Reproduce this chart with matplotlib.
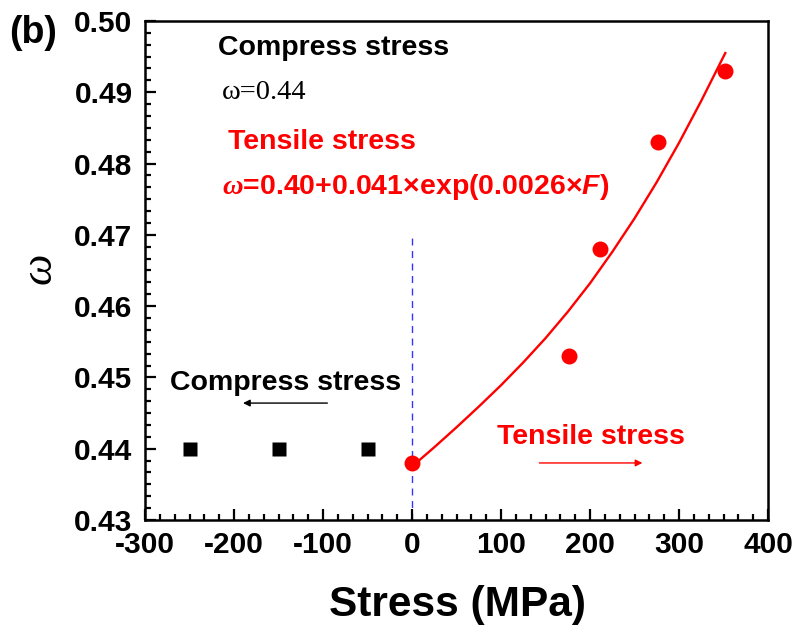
import matplotlib
matplotlib.use("Agg")
import matplotlib.pyplot as plt
from matplotlib.ticker import MultipleLocator, AutoMinorLocator

plt.rcParams['font.family'] = ['Liberation Sans', 'DejaVu Sans']
plt.rcParams['font.weight'] = 'bold'
plt.rcParams['axes.unicode_minus'] = False
plt.rcParams['mathtext.fontset'] = 'custom'
plt.rcParams['mathtext.it'] = 'Liberation Serif:italic'
plt.rcParams['mathtext.sf'] = 'Liberation Sans:italic:bold'
plt.rcParams['mathtext.rm'] = 'Liberation Sans:bold'

# compressive side (constant omega)
compress_x = [-250, -150, -50]
compress_y = [0.44, 0.44, 0.44]

# tensile side measurements
tensile_x = [0, 176, 211, 276, 352]
tensile_y = [0.438, 0.453, 0.468, 0.483, 0.493]

# fitted curve
fit_x = [0, 25, 50, 75, 100, 125, 150, 175, 200, 225, 250, 275, 300, 325, 352]
fit_y = [0.4375, 0.4402, 0.4430, 0.4459, 0.4489, 0.4521, 0.4555, 0.4592,
         0.4632, 0.4676, 0.4723, 0.4774, 0.4829, 0.4888, 0.4955]

fig = plt.figure(figsize=(7.99, 6.28), dpi=100)
ax = fig.add_axes([0.1815, 0.172, 0.7797, 0.7946])

ax.plot(fit_x, fit_y, color='red', lw=1.7, zorder=2)
ax.plot(tensile_x, tensile_y, 'o', color='red', ms=11.5, mec='none', zorder=3)
ax.plot(compress_x, compress_y, 's', color='black', ms=9.5, mec='none', zorder=3)
ax.plot([0, 0], [0.43, 0.47], color='#3333ff', lw=1.0, ls=(0, (5, 4)), zorder=1)

ax.set_xlim(-300, 400)
ax.set_ylim(0.43, 0.50)
ax.xaxis.set_major_locator(MultipleLocator(100))
ax.yaxis.set_major_locator(MultipleLocator(0.01))
ax.xaxis.set_minor_locator(AutoMinorLocator(6))
ax.yaxis.set_minor_locator(AutoMinorLocator(6))
ax.tick_params(which='both', direction='in', top=False, right=False,
               labelsize=21.5, width=1.6)
ax.tick_params(which='major', length=8)
ax.tick_params(axis='y', pad=9)
ax.tick_params(axis='x', pad=8)
ax.tick_params(which='minor', length=4)
ax.set_yticklabels([f'{v:.2f}' for v in ax.get_yticks()])
for s in ax.spines.values():
    s.set_linewidth(1.8)

fs = 20.5
ax.text(-218, 0.4962, 'Compress stress', fontsize=fs, va='center', ha='left')
ax.text(-213.5, 0.4900, '\u03c9=0.44', fontsize=fs, va='center', ha='left',
        family='Liberation Serif', weight='normal')
ax.text(-206.7, 0.4830, 'Tensile stress', fontsize=fs, va='center', ha='left', color='red')
ax.text(-213.5, 0.4767, '$\\omega$=0.40+0.041\u00d7exp(0.0026\u00d7$\\mathsf{F}$)',
        fontsize=fs, va='center', ha='left', color='red')
ax.text(-272, 0.4492, 'Compress stress', fontsize=fs, va='center', ha='left')
ax.text(95.5, 0.4417, 'Tensile stress', fontsize=fs, va='center', ha='left', color='red')

ax.annotate('', xy=(-193, 0.4464), xytext=(-92, 0.4464),
            arrowprops=dict(arrowstyle='-|>', color='black', lw=1.0, mutation_scale=10))
ax.annotate('', xy=(262, 0.4380), xytext=(140, 0.4380),
            arrowprops=dict(arrowstyle='-|>', color='red', lw=1.0, mutation_scale=10))

fig.text(0.012, 0.947, '(b)', fontsize=27, va='center', ha='left')
fig.text(0.572, 0.037, 'Stress (MPa)', fontsize=30.5, va='center', ha='center')
fig.text(0.05, 0.573, '\u03c9', fontsize=32, va='center', ha='center', rotation=90,
         family='Liberation Serif', style='italic', weight='normal')

fig.savefig('out.png', dpi=100)
